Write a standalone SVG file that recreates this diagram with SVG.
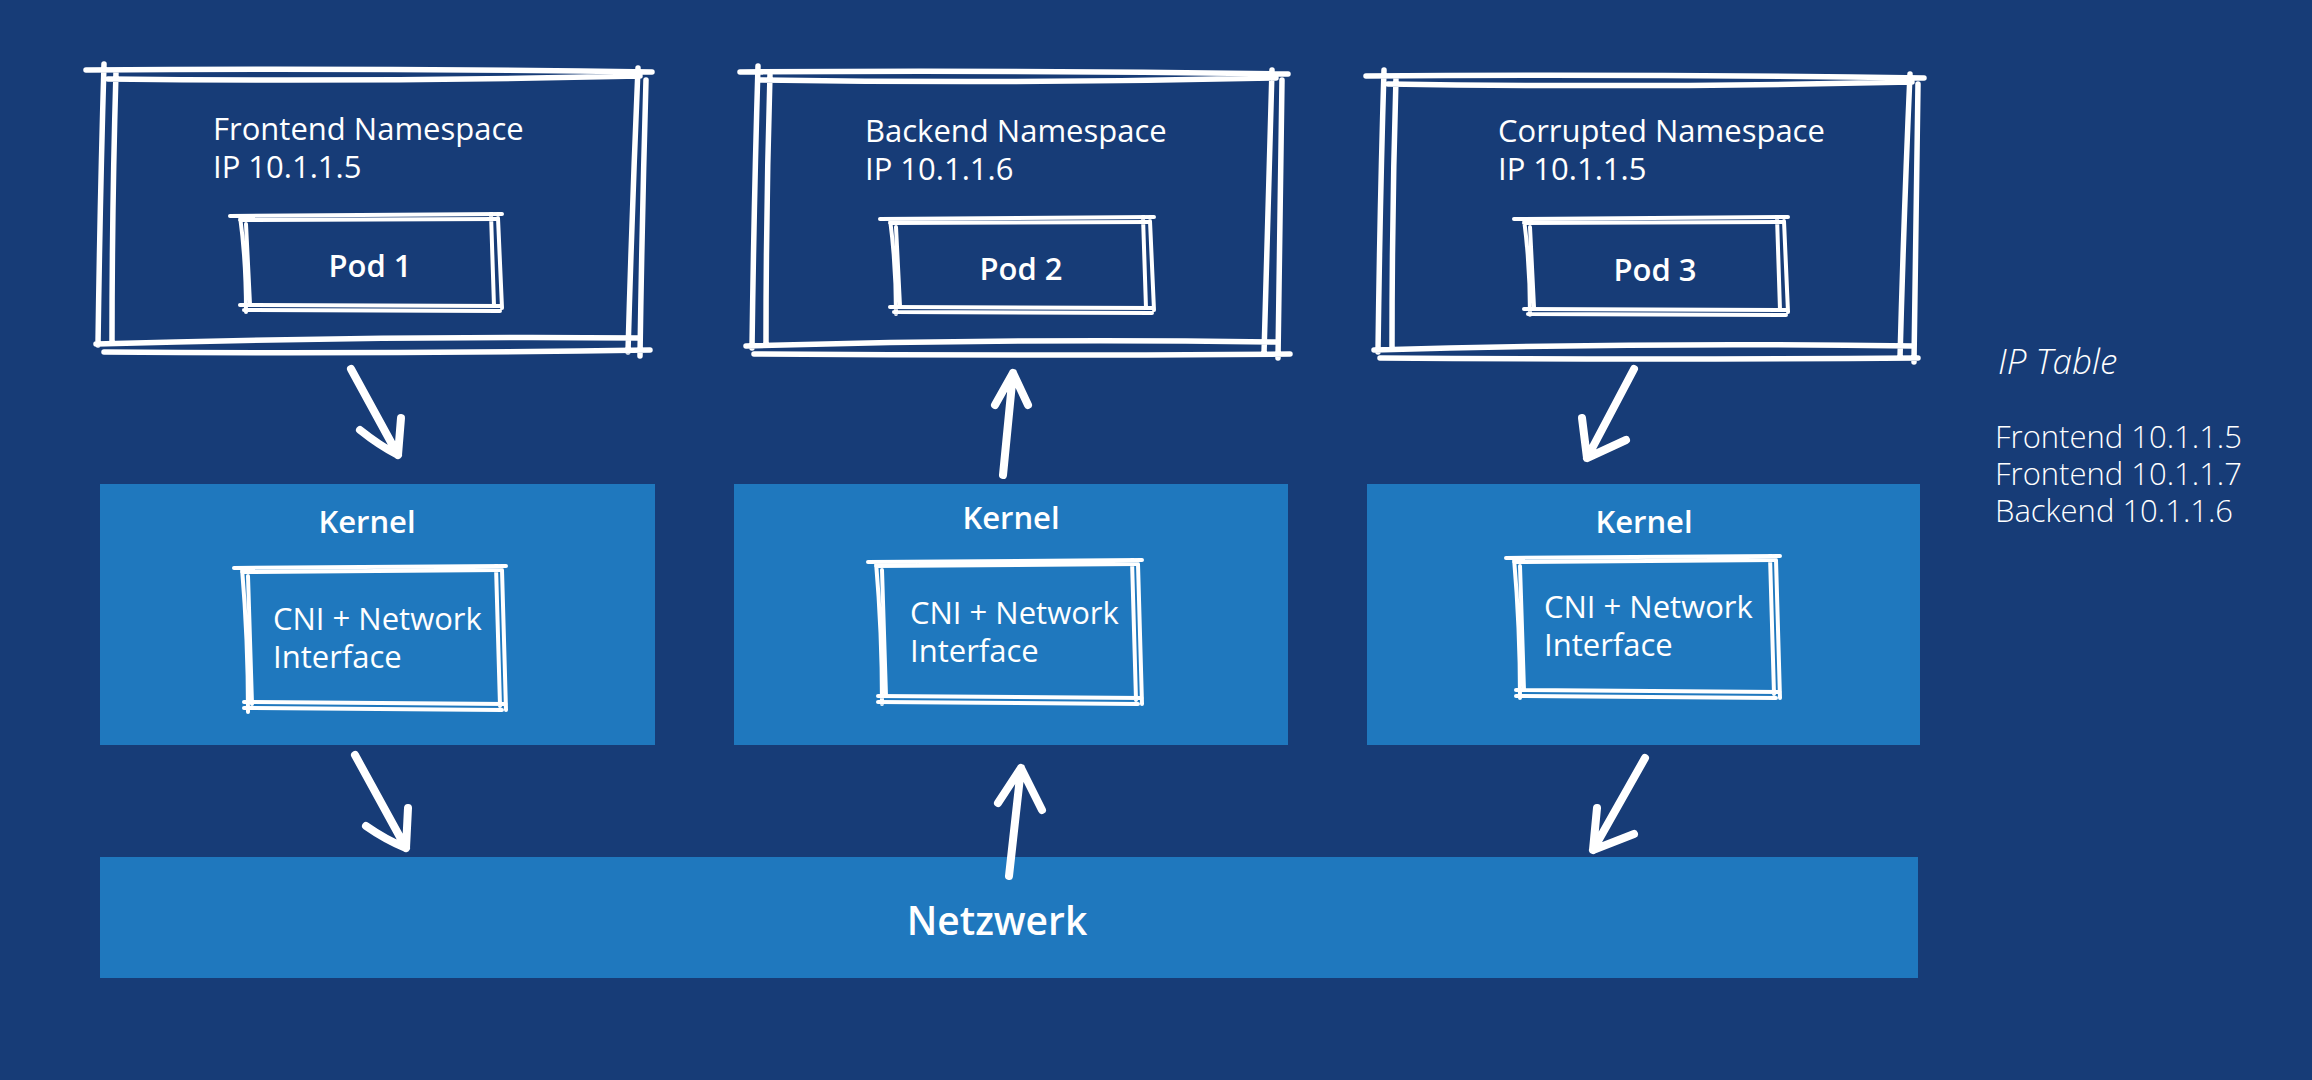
<svg xmlns="http://www.w3.org/2000/svg" width="2312" height="1080" viewBox="0 0 2312 1080">
<style>
.bg{fill:#173c77}
.panel{fill:#1f78be}
.sk{fill:none;stroke:#ffffff;stroke-linecap:round;stroke-linejoin:round}
.o{stroke-width:5.5}
.i{stroke-width:4}
.arr{fill:none;stroke:#ffffff;stroke-width:8;stroke-linecap:round;stroke-linejoin:round}
.t{font-family:"Open Sans","Noto Sans","Liberation Sans",sans-serif;fill:#ffffff}
.ns{font-size:31px}
.b{font-weight:600}
.lt{font-weight:300;font-size:31px}
</style>
<rect class="bg" x="0" y="0" width="2312" height="1080"/>

<g id="frontend-namespace">
<path class="sk o" d="M86,70 Q370,68 652,72 M108,79 Q380,82 640,76 M104,64 Q100,200 98,345 M116,72 Q112,210 112,340 M638,68 Q632,210 628,352 M646,80 Q642,220 640,356 M96,344 Q370,336 640,338 M104,352 Q380,354 650,350"/>
<text class="t ns" x="213" y="140">Frontend Namespace</text>
<text class="t ns" x="213" y="178">IP 10.1.1.5</text>
</g>
<g id="pod1">
<path class="sk i" d="M230,216 L502,214 M240,220 L496,219 M240,216 Q246,260 246,312 M246,224 L250,304 M491,214 L494,306 M498,218 L502,308 M240,305 L502,306 M244,310 L500,311"/>
<text class="t b" x="370" y="277" font-size="31" text-anchor="middle">Pod 1</text>
</g>

<g id="backend-namespace">
<path class="sk o" d="M740,72 Q1010,70 1288,74 M760,80 Q1020,84 1276,78 M758,66 Q754,200 752,348 M770,74 Q766,210 766,344 M1272,70 Q1268,210 1264,354 M1282,80 Q1280,220 1278,358 M746,346 Q1010,338 1278,342 M754,354 Q1020,356 1290,354"/>
<text class="t ns" x="865" y="142">Backend Namespace</text>
<text class="t ns" x="865" y="180">IP 10.1.1.6</text>
</g>
<g id="pod2">
<path class="sk i" d="M880,219 L1154,217 M890,223 L1148,222 M890,219 Q896,265 896,314 M896,227 L900,306 M1143,217 L1146,308 M1150,221 L1154,310 M890,307 L1154,308 M894,312 L1152,313"/>
<text class="t b" x="1021" y="280" font-size="31" text-anchor="middle">Pod 2</text>
</g>

<g id="corrupted-namespace">
<path class="sk o" d="M1366,76 Q1640,74 1924,78 M1388,84 Q1650,88 1912,82 M1384,70 Q1380,200 1378,352 M1396,78 Q1392,210 1392,348 M1910,74 Q1904,210 1900,358 M1918,84 Q1916,220 1914,362 M1374,350 Q1640,342 1914,346 M1380,358 Q1650,360 1918,358"/>
<text class="t ns" x="1498" y="142">Corrupted Namespace</text>
<text class="t ns" x="1498" y="180">IP 10.1.1.5</text>
</g>
<g id="pod3">
<path class="sk i" d="M1514,219 L1788,217 M1524,223 L1782,222 M1524,219 Q1530,265 1530,315 M1530,227 L1534,307 M1777,217 L1780,310 M1784,221 L1788,312 M1524,309 L1788,310 M1528,314 L1786,315"/>
<text class="t b" x="1655" y="281" font-size="31" text-anchor="middle">Pod 3</text>
</g>

<g id="kernel1">
<rect class="panel" x="100" y="484" width="555" height="261"/>
<text class="t b" x="367" y="533" font-size="31" text-anchor="middle">Kernel</text>
</g>
<g id="cni1">
<path class="sk i" d="M234,568 L506,566 M242,572 L500,570 M242,568 Q248,640 248,712 M248,576 L252,704 M496,566 L500,706 M502,570 L506,710 M244,702 L506,704 M244,708 L502,710"/>
<text class="t ns" x="273" y="630">CNI + Network</text>
<text class="t ns" x="273" y="668">Interface</text>
</g>

<g id="kernel2">
<rect class="panel" x="734" y="484" width="554" height="261"/>
<text class="t b" x="1011" y="529" font-size="31" text-anchor="middle">Kernel</text>
</g>
<g id="cni2">
<path class="sk i" d="M868,562 L1142,560 M876,566 L1136,564 M876,562 Q882,632 882,704 M882,570 L886,696 M1132,560 L1136,700 M1138,564 L1142,704 M878,696 L1142,698 M878,702 L1138,704"/>
<text class="t ns" x="910" y="624">CNI + Network</text>
<text class="t ns" x="910" y="662">Interface</text>
</g>

<g id="kernel3">
<rect class="panel" x="1367" y="484" width="553" height="261"/>
<text class="t b" x="1644" y="533" font-size="31" text-anchor="middle">Kernel</text>
</g>
<g id="cni3">
<path class="sk i" d="M1506,558 L1780,556 M1514,562 L1774,560 M1514,558 Q1520,628 1520,698 M1520,566 L1524,690 M1770,556 L1774,694 M1776,560 L1780,698 M1516,690 L1780,692 M1516,696 L1776,698"/>
<text class="t ns" x="1544" y="618">CNI + Network</text>
<text class="t ns" x="1544" y="656">Interface</text>
</g>

<g id="netzwerk">
<rect class="panel" x="100" y="857" width="1818" height="121"/>
<text class="t b" x="997" y="935" font-size="39" text-anchor="middle">Netzwerk</text>
</g>

<g id="ip-table">
<text class="t" x="1998" y="374" font-size="35" font-style="italic" font-family="'DejaVu Sans',sans-serif" font-weight="300">IP Table</text>
<text class="t lt" x="1995" y="448">Frontend 10.1.1.5</text>
<text class="t lt" x="1995" y="485">Frontend 10.1.1.7</text>
<text class="t lt" x="1995" y="522">Backend 10.1.1.6</text>
</g>

<g id="connectors">
<path class="arr" d="M351,369 L398,455 M360,430 Q380,446 398,455 L401,418"/>
<path class="arr" d="M1003,475 L1013,373 M995,405 L1013,373 L1028,405"/>
<path class="arr" d="M1634,369 L1587,458 M1582,418 L1587,458 L1626,440"/>
<path class="arr" d="M355,755 L406,848 M366,826 Q386,840 406,848 L408,808"/>
<path class="arr" d="M1009,876 L1021,768 M998,803 L1021,768 L1042,810"/>
<path class="arr" d="M1645,758 L1593,850 M1597,808 L1593,850 L1634,834"/>
</g>
</svg>
